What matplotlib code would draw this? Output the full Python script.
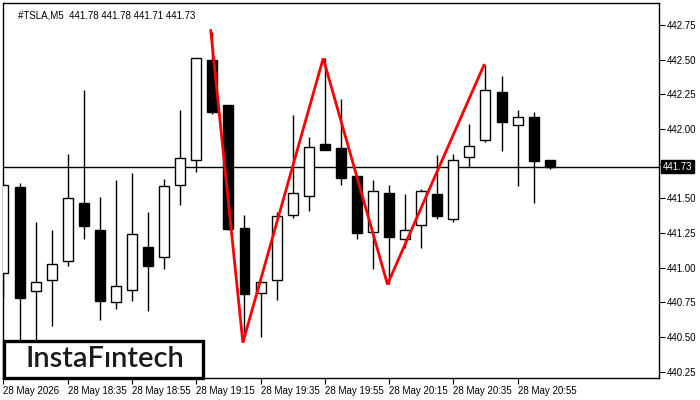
import matplotlib
matplotlib.use("Agg")
import matplotlib.pyplot as plt
from matplotlib.patches import Rectangle

# ---- data ----
opens  = [440.96, 441.58, 440.83, 440.91, 441.05, 441.47, 441.27, 440.75, 440.84, 441.15,
          441.08, 441.60, 441.78, 442.50, 442.17, 441.29, 440.82, 440.91, 441.38, 441.52,
          441.89, 441.86, 441.66, 441.26, 441.54, 441.21, 441.31, 441.53, 441.35, 441.80,
          441.92, 442.27, 442.03, 442.09, 441.78]
highs  = [441.61, 441.61, 441.33, 441.27, 441.82, 442.28, 441.51, 441.63, 441.68, 441.40,
          441.64, 442.14, 442.51, 442.70, 442.17, 441.38, 440.90, 441.40, 442.10, 441.94,
          442.51, 442.22, 441.66, 441.63, 441.60, 441.53, 441.57, 441.81, 441.82, 442.04,
          442.46, 442.38, 442.14, 442.12, 441.78]
lows   = [440.78, 440.45, 440.45, 440.58, 441.01, 441.21, 440.62, 440.70, 440.76, 440.69,
          440.99, 441.45, 441.69, 442.11, 441.27, 440.53, 440.50, 440.77, 441.36, 441.41,
          441.85, 441.60, 441.21, 440.99, 440.88, 441.14, 441.14, 441.35, 441.33, 441.73,
          441.91, 441.84, 441.59, 441.47, 441.71]
closes = [441.60, 440.78, 440.90, 441.03, 441.50, 441.30, 440.76, 440.87, 441.24, 441.01,
          441.59, 441.79, 442.51, 442.12, 441.28, 440.81, 440.90, 441.37, 441.54, 441.87,
          441.85, 441.65, 441.25, 441.55, 441.22, 441.27, 441.55, 441.37, 441.78, 441.88,
          442.28, 442.05, 442.09, 441.77, 441.73]

pattern_idx   = [12.9, 14.9, 19.9, 23.9, 29.9]
pattern_price = [442.71, 440.46, 442.51, 440.88, 442.46]

last_price = 441.73
y_ticks = [440.25, 440.50, 440.75, 441.00, 441.25, 441.50, 441.75, 442.00, 442.25, 442.50, 442.75]
y_tick_labels = ["440.25", "440.50", "440.75", "441.00", "441.25", "441.50", "", "442.00",
                 "442.25", "442.50", "442.75"]
x_tick_idx = [0, 4, 8, 12, 16, 20, 24, 28, 32]
x_tick_labels = ["28 May 2026", "28 May 18:35", "28 May 18:55", "28 May 19:15", "28 May 19:35",
                 "28 May 19:55", "28 May 20:15", "28 May 20:35", "28 May 20:55"]
title = "#TSLA,M5  441.78 441.78 441.71 441.73"

plt.rcParams["font.family"] = ["Liberation Sans", "DejaVu Sans"]

# ---- figure ----
fig = plt.figure(figsize=(7, 4), dpi=100)
ax = fig.add_axes([3/700, 1 - 378/400, 656/700, 375/400])
ax.set_xlim(-0.03, 40.8)
ax.set_ylim(440.205, 442.909)

n = len(opens)
idx = list(range(n))
ax.vlines(idx, lows, highs, color="black", linewidth=1.0, zorder=2)
bull = [i for i in idx if closes[i] >= opens[i]]
bear = [i for i in idx if closes[i] < opens[i]]
ax.bar(bull, [closes[i] - opens[i] for i in bull], bottom=[opens[i] for i in bull],
       width=0.62, color="white", edgecolor="black", linewidth=1.0, zorder=3)
ax.bar(bear, [opens[i] - closes[i] for i in bear], bottom=[closes[i] for i in bear],
       width=0.62, color="black", edgecolor="black", linewidth=1.0, zorder=3)

ax.axhline(last_price, color="black", linewidth=1.0, zorder=1)
ax.plot(pattern_idx, pattern_price, color="#ff0000", linewidth=2.0, zorder=4,
        solid_joinstyle="miter")

# axes styling
for s in ax.spines.values():
    s.set_linewidth(1.0)
    s.set_color("black")
ax.yaxis.tick_right()
ax.set_yticks(y_ticks)
ax.set_yticklabels(y_tick_labels)
ax.set_xticks(x_tick_idx)
ax.set_xticklabels(x_tick_labels, ha="left")
ax.tick_params(axis="both", direction="out", length=4, width=0.8, labelsize=7, colors="black")
ax.tick_params(axis="y", pad=1.5)
ax.tick_params(axis="x", pad=2)
for lbl in ax.get_xticklabels():
    lbl.set_horizontalalignment("left")

# last price label on the right axis
ax.annotate("441.73", xy=(1.0, last_price), xycoords=("axes fraction", "data"),
            xytext=(2.5, 0), textcoords="offset points", ha="left", va="center",
            fontsize=7, color="white",
            bbox=dict(boxstyle="square,pad=0.2", fc="black", ec="black"))

ax.text(15/656, 1 - 7/375, title, transform=ax.transAxes, fontsize=7, ha="left", va="top",
        color="black")

# logo
ax.add_patch(Rectangle((1/656, 0.0), 199/656, 37.5/375, transform=ax.transAxes,
                       facecolor="white", edgecolor="black", linewidth=2.4, zorder=10,
                       clip_on=False))
ax.text(102/656, 19/375, "InstaF\u0131ntech", transform=ax.transAxes, fontsize=21,
        family="Lato", weight=600, color="#1a1a1a", ha="center", va="center", zorder=11)

fig.savefig("out.png", dpi=100)
